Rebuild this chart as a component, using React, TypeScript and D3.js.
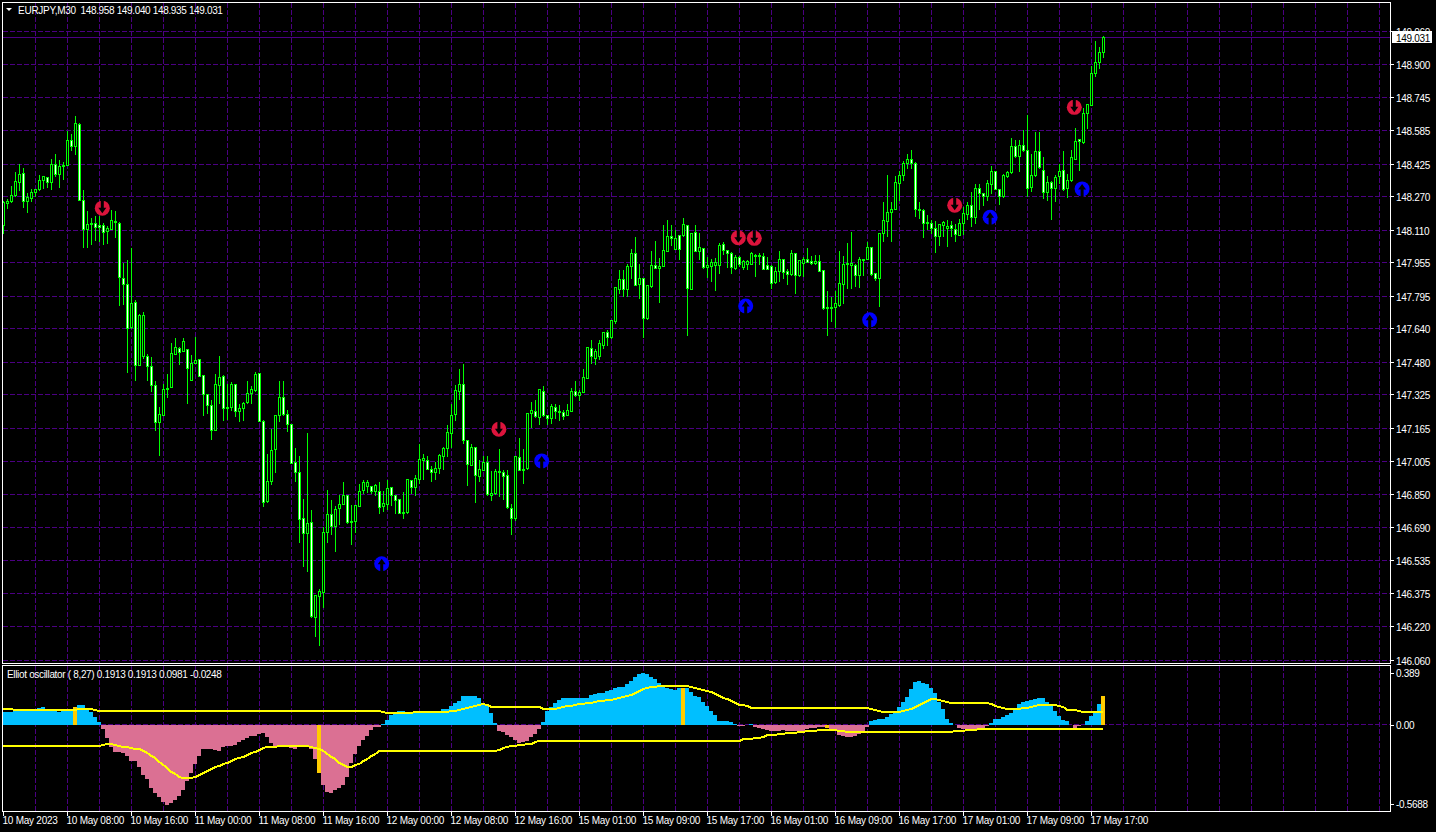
import React from "react";
import * as d3 from "d3";

const W = 1436, H = 832;
const highs = [148.255,148.263,148.322,148.393,148.430,148.411,148.290,148.312,148.311,148.379,
148.369,148.369,148.454,148.478,148.446,148.438,148.586,148.573,148.660,148.627,
148.303,148.207,148.172,148.179,148.179,148.147,148.131,148.210,148.203,148.152,
147.956,147.972,148.029,147.778,147.714,147.721,147.524,147.508,147.396,147.269,
147.380,147.425,147.574,147.597,147.555,147.600,147.543,147.520,147.606,147.500,
147.419,147.333,147.301,147.425,147.511,147.420,147.380,147.387,147.376,147.282,
147.295,147.392,147.368,147.439,147.428,147.209,147.043,147.166,147.233,147.396,
147.396,147.256,147.190,147.075,147.037,146.832,147.147,146.779,146.369,146.402,
146.697,146.875,146.827,146.795,146.852,146.914,146.852,146.800,146.800,146.903,
146.922,146.922,146.895,146.903,146.911,146.868,146.919,146.887,146.852,146.827,
146.864,146.922,146.922,146.943,147.091,147.046,147.038,146.986,147.007,147.046,
147.081,147.186,147.285,147.377,147.453,147.473,147.110,147.091,147.078,147.015,
147.034,147.037,146.964,146.975,147.070,146.967,146.967,146.805,147.035,147.123,
147.067,147.240,147.293,147.301,147.352,147.368,147.231,147.285,147.282,147.277,
147.253,147.282,147.361,147.396,147.349,147.449,147.555,147.587,147.545,147.587,
147.627,147.635,147.686,147.838,147.924,147.921,147.953,148.024,148.083,147.953,
147.886,147.848,148.016,148.064,147.981,148.136,148.164,148.136,148.112,148.088,
148.172,148.134,148.096,148.136,148.101,148.024,147.985,147.977,147.981,148.051,
148.056,148.020,148.009,147.993,147.988,147.969,147.969,148.009,148.001,148.004,
148.004,147.985,147.945,147.937,148.012,147.977,147.929,148.020,148.004,147.969,
147.985,148.029,147.988,147.993,147.993,147.921,147.823,147.794,147.823,148.016,
147.988,148.051,148.107,147.953,147.985,147.977,148.056,148.032,147.908,148.101,
148.247,148.379,148.247,148.370,148.398,148.443,148.478,148.497,148.438,148.249,
148.216,148.184,148.160,148.155,148.141,148.155,148.160,148.155,148.144,148.168,
148.224,148.247,148.295,148.332,148.332,148.290,148.351,148.418,148.395,148.311,
148.383,148.398,148.551,148.545,148.542,148.592,148.661,148.478,148.581,148.580,
148.462,148.370,148.348,148.375,148.427,148.491,148.383,148.497,148.600,148.542,
148.697,148.717,148.895,149.014,148.987,149.040];
const lows = [148.096,148.214,148.242,148.271,148.300,148.218,148.195,148.247,148.271,148.300,
148.312,148.315,148.303,148.366,148.314,148.355,148.419,148.493,148.474,148.252,
148.028,148.028,148.042,148.061,148.055,148.045,148.048,148.112,148.075,147.751,
147.754,147.431,147.643,147.392,147.466,147.498,147.396,147.341,147.155,147.035,
147.225,147.312,147.360,147.520,147.468,147.532,147.282,147.393,147.476,147.412,
147.225,147.234,147.110,147.155,147.282,147.202,147.206,147.250,147.222,147.198,
147.202,147.285,147.285,147.341,147.198,146.792,146.811,146.896,146.954,147.198,
147.225,147.150,146.997,146.911,146.620,146.506,146.482,146.264,146.172,146.129,
146.310,146.620,146.657,146.577,146.705,146.802,146.709,146.609,146.668,146.792,
146.856,146.859,146.856,146.843,146.760,146.768,146.776,146.798,146.757,146.757,
146.733,146.760,146.856,146.843,146.900,146.919,146.967,146.911,146.922,146.951,
146.967,147.030,147.075,147.205,147.301,147.094,146.895,146.986,146.811,146.911,
146.964,146.844,146.821,146.852,146.840,146.824,146.784,146.657,146.728,146.964,
146.903,146.967,147.170,147.218,147.182,147.224,147.182,147.190,147.212,147.205,
147.209,147.228,147.244,147.317,147.296,147.336,147.404,147.476,147.470,147.495,
147.547,147.563,147.594,147.664,147.810,147.794,147.794,147.881,147.845,147.786,
147.598,147.686,147.838,147.927,147.765,147.937,148.009,148.040,148.017,147.972,
148.083,147.608,147.829,148.009,147.969,147.929,147.885,147.865,147.823,147.905,
147.993,147.932,147.902,147.924,147.937,147.921,147.924,147.945,147.892,147.945,
147.921,147.921,147.834,147.858,147.865,147.880,147.850,147.896,147.807,147.892,
147.889,147.956,147.945,147.945,147.913,147.734,147.608,147.675,147.648,147.746,
147.762,147.834,147.834,147.842,147.838,147.897,147.969,147.896,147.873,147.749,
148.057,148.081,148.057,148.211,148.251,148.348,148.403,148.406,148.176,148.168,
148.076,148.112,148.096,148.004,148.036,148.081,148.033,148.081,148.057,148.084,
148.088,148.160,148.128,148.141,148.208,148.227,148.255,148.287,148.303,148.232,
148.268,148.360,148.383,148.459,148.391,148.486,148.271,148.295,148.367,148.406,
148.263,148.255,148.160,148.247,148.332,148.300,148.268,148.343,148.446,148.398,
148.523,148.594,148.705,148.844,148.882,148.935];
const opens = [148.133,148.238,148.247,148.276,148.338,148.382,148.250,148.263,148.290,148.304,
148.347,148.363,148.338,148.425,148.376,148.422,148.419,148.540,148.509,148.616,
148.252,148.113,148.144,148.144,148.134,148.134,148.104,148.113,148.153,148.144,
147.881,147.853,147.646,147.767,147.466,147.508,147.508,147.460,147.371,147.193,
147.229,147.357,147.360,147.520,147.547,147.532,147.543,147.396,147.476,147.495,
147.419,147.328,147.276,147.155,147.369,147.415,147.266,147.263,147.376,147.245,
147.260,147.288,147.333,147.344,147.428,147.199,146.814,146.911,147.066,147.225,
147.314,147.233,147.185,147.003,146.954,146.736,146.665,146.717,146.264,146.363,
146.382,146.668,146.754,146.697,146.781,146.802,146.846,146.720,146.720,146.792,
146.868,146.887,146.889,146.862,146.864,146.792,146.803,146.884,146.846,146.827,
146.765,146.763,146.918,146.883,146.922,147.013,147.011,146.970,146.956,146.975,
147.030,147.070,147.140,147.231,147.341,147.376,147.108,146.989,147.075,146.938,
146.964,147.003,146.844,146.854,146.961,146.956,146.941,146.784,146.733,147.027,
146.970,146.972,147.236,147.247,147.218,147.342,147.228,147.212,147.266,147.247,
147.242,147.229,147.245,147.342,147.321,147.337,147.404,147.547,147.500,147.508,
147.563,147.624,147.597,147.675,147.829,147.877,147.829,147.940,148.001,147.850,
147.881,147.689,147.840,147.942,147.927,147.937,148.009,148.082,148.017,148.085,
148.085,148.134,147.830,148.101,148.009,148.024,147.932,147.940,147.942,147.943,
148.044,148.016,148.001,147.927,147.981,147.932,147.945,147.947,147.988,147.988,
147.986,147.943,147.940,147.861,147.913,147.972,147.915,147.899,148.001,147.894,
147.953,147.972,147.962,147.950,147.962,147.920,147.743,147.737,147.740,147.751,
147.851,147.953,147.943,147.943,147.897,147.972,147.969,148.029,147.902,147.880,
148.093,148.152,148.195,148.212,148.333,148.371,148.427,148.449,148.430,148.211,
148.206,148.150,148.144,148.120,148.081,148.131,148.119,148.135,148.115,148.087,
148.141,148.185,148.230,148.171,148.311,148.287,148.271,148.327,148.391,148.306,
148.271,148.367,148.386,148.510,148.462,148.515,148.492,148.314,148.373,148.488,
148.395,148.289,148.340,148.309,148.367,148.397,148.308,148.348,148.449,148.542,
148.529,148.667,148.705,148.860,148.910,148.958];
const closes = [148.244,148.250,148.277,148.344,148.379,148.247,148.268,148.292,148.306,148.349,
148.368,148.338,148.425,148.376,148.417,148.414,148.540,148.509,148.621,148.252,
148.113,148.139,148.137,148.123,148.123,148.101,148.120,148.158,148.147,147.886,
147.853,147.643,147.762,147.466,147.705,147.705,147.460,147.369,147.193,147.233,
147.352,147.349,147.524,147.552,147.527,147.581,147.450,147.476,147.489,147.415,
147.326,147.276,147.155,147.376,147.409,147.260,147.260,147.376,147.245,147.261,
147.282,147.333,147.349,147.423,147.198,146.811,146.913,147.062,147.229,147.314,
147.231,147.185,146.997,146.954,146.732,146.665,146.712,146.267,146.369,146.387,
146.670,146.755,146.697,146.779,146.803,146.846,146.716,146.714,146.798,146.865,
146.908,146.906,146.864,146.894,146.787,146.808,146.879,146.846,146.821,146.760,
146.760,146.919,146.883,146.927,147.018,147.023,146.970,146.956,146.975,147.034,
147.070,147.147,147.228,147.347,147.376,147.107,146.992,147.075,146.941,146.967,
147.003,146.849,146.856,146.961,146.954,146.935,146.787,146.735,147.032,146.964,
146.967,147.237,147.252,147.220,147.349,147.226,147.212,147.272,147.245,147.240,
147.224,147.252,147.342,147.320,147.337,147.409,147.552,147.510,147.532,147.568,
147.625,147.598,147.678,147.838,147.877,147.826,147.940,148.001,147.846,147.881,
147.689,147.848,147.943,147.927,147.940,148.012,148.080,148.071,148.072,148.017,
148.139,147.834,148.096,148.009,148.029,147.932,147.943,147.959,147.958,148.037,
148.016,148.001,147.932,147.981,147.945,147.962,147.962,148.001,147.985,147.985,
147.924,147.924,147.856,147.916,147.972,147.908,147.899,148.001,147.894,147.964,
147.972,147.958,147.950,147.962,147.916,147.737,147.737,147.743,147.759,147.858,
147.948,147.950,147.953,147.894,147.969,147.966,148.029,147.899,147.880,148.096,
148.155,148.197,148.211,148.340,148.373,148.430,148.449,148.429,148.209,148.205,
148.143,148.144,148.119,148.081,148.136,148.150,148.130,148.119,148.090,148.144,
148.192,148.230,148.173,148.311,148.287,148.271,148.332,148.391,148.305,148.271,
148.370,148.387,148.511,148.461,148.515,148.491,148.308,148.373,148.488,148.411,
148.292,148.340,148.308,148.364,148.392,148.305,148.348,148.459,148.535,148.534,
148.669,148.712,148.860,148.912,148.960,149.031];

const oscillator = [.088,.088,.084,.092,.092,.097,.099,.099,.106,.114,
.117,.106,.099,.099,.088,.092,.097,.099,.117,.132,
.132,.106,.084,.055,.020,-.026,-.088,-.147,-.176,-.176,
-.187,-.202,-.238,-.238,-.279,-.330,-.359,-.418,-.451,-.477,
-.506,-.528,-.517,-.495,-.466,-.429,-.367,-.319,-.257,-.205,
-.161,-.158,-.161,-.165,-.169,-.143,-.139,-.139,-.132,-.114,
-.099,-.088,-.073,-.073,-.059,-.055,-.081,-.121,-.139,-.139,
-.139,-.147,-.154,-.158,-.143,-.143,-.143,-.161,-.224,-.315,
-.396,-.440,-.447,-.429,-.418,-.396,-.341,-.253,-.194,-.139,
-.099,-.073,-.033,-.015,-.011,.004,.033,.066,.088,.092,
.090,.084,.084,.088,.088,.088,.088,.088,.088,.088,
.103,.103,.125,.143,.161,.191,.191,.191,.191,.180,
.143,.136,.077,.013,-.040,-.044,-.066,-.081,-.099,-.117,
-.112,-.103,-.081,-.059,-.026,.022,.095,.121,.143,.165,
.176,.176,.180,.180,.180,.180,.180,.198,.202,.209,
.213,.224,.231,.242,.249,.253,.268,.290,.315,.337,
.343,.337,.319,.301,.275,.257,.244,.238,.231,.242,
.242,.242,.216,.191,.183,.154,.128,.092,.066,.026,
.026,.026,.018,.004,-.004,-.004,-.002,.007,-.011,-.022,
-.029,-.033,-.037,-.037,-.037,-.033,-.037,-.037,-.037,-.037,
-.037,-.029,-.022,-.018,-.015,-.015,-.020,-.026,-.037,-.064,
-.073,-.077,-.079,-.073,-.059,-.037,-.011,.029,.033,.037,
.037,.051,.073,.088,.121,.154,.187,.238,.286,.290,
.279,.271,.246,.209,.154,.106,.037,.011,.002,-.022,
-.029,-.037,-.029,-.029,-.024,-.018,-.007,.015,.037,.042,
.051,.066,.081,.110,.136,.154,.161,.165,.172,.178,
.178,.154,.136,.092,.059,.033,.026,.002,-.018,-.009,
-.002,.029,.059,.088,.139,.1913];

const upperBand = [.106,.106,.106,.101,.099,.099,.099,.099,.099,.099,
.099,.099,.099,.099,.101,.101,.101,.101,.101,.106,
.108,.108,.103,.099,.095,.092,.092,.092,.092,.092,
.092,.092,.092,.092,.092,.092,.092,.092,.092,.092,
.092,.092,.092,.092,.092,.092,.092,.092,.092,.092,
.092,.092,.092,.092,.092,.092,.092,.092,.092,.092,
.092,.092,.092,.092,.092,.092,.092,.092,.092,.092,
.092,.092,.092,.092,.092,.092,.092,.092,.092,.092,
.092,.092,.092,.092,.092,.092,.092,.092,.092,.092,
.092,.092,.092,.092,.092,.084,.079,.079,.079,.079,
.079,.079,.079,.086,.086,.086,.086,.086,.086,.086,
.086,.088,.090,.095,.099,.106,.110,.117,.123,.130,
.136,.132,.119,.119,.119,.119,.119,.119,.119,.119,
.119,.119,.119,.119,.119,.108,.106,.106,.108,.112,
.119,.123,.128,.132,.136,.141,.143,.147,.152,.156,
.161,.163,.167,.172,.176,.183,.191,.200,.213,.227,
.238,.242,.249,.253,.257,.260,.260,.260,.260,.260,
.260,.257,.251,.244,.238,.231,.224,.216,.205,.194,
.180,.169,.158,.147,.134,.134,.125,.112,.112,.112,
.112,.112,.112,.112,.112,.112,.112,.112,.112,.112,
.112,.112,.112,.112,.112,.112,.112,.112,.112,.112,
.112,.112,.112,.112,.112,.112,.112,.106,.099,.090,
.086,.086,.086,.086,.086,.090,.099,.108,.119,.132,
.143,.161,.169,.169,.167,.161,.154,.147,.147,.147,
.147,.147,.147,.147,.147,.147,.147,.139,.128,.121,
.110,.106,.106,.106,.106,.110,.114,.119,.125,.134,
.134,.134,.134,.130,.123,.117,.101,.099,.099,.095,
.088,.086,.086,.086,.088,.088];

const lowerBand = [-.139,-.139,-.139,-.139,-.139,-.139,-.139,-.139,-.139,-.139,
-.139,-.139,-.139,-.139,-.139,-.139,-.139,-.139,-.139,-.139,
-.139,-.139,-.139,-.139,-.139,-.134,-.128,-.128,-.132,-.139,
-.143,-.147,-.152,-.156,-.161,-.172,-.187,-.205,-.220,-.242,
-.264,-.286,-.308,-.326,-.341,-.350,-.350,-.350,-.341,-.330,
-.315,-.301,-.288,-.279,-.268,-.260,-.249,-.235,-.227,-.220,
-.209,-.198,-.187,-.178,-.165,-.152,-.145,-.143,-.143,-.141,
-.141,-.141,-.141,-.141,-.141,-.141,-.141,-.143,-.150,-.161,
-.174,-.189,-.209,-.227,-.249,-.264,-.275,-.275,-.266,-.255,
-.240,-.224,-.207,-.191,-.174,-.169,-.169,-.169,-.169,-.169,
-.169,-.169,-.169,-.169,-.169,-.169,-.169,-.169,-.169,-.169,
-.169,-.169,-.169,-.169,-.169,-.169,-.169,-.169,-.169,-.169,
-.169,-.169,-.169,-.169,-.165,-.154,-.147,-.141,-.136,-.132,
-.130,-.128,-.123,-.114,-.108,-.103,-.103,-.103,-.103,-.103,
-.103,-.103,-.103,-.103,-.103,-.103,-.103,-.103,-.103,-.103,
-.103,-.103,-.103,-.103,-.103,-.103,-.103,-.103,-.103,-.103,
-.103,-.103,-.103,-.103,-.103,-.103,-.103,-.103,-.103,-.103,
-.103,-.103,-.103,-.103,-.103,-.103,-.103,-.103,-.103,-.103,
-.103,-.103,-.103,-.103,-.103,-.095,-.095,-.090,-.088,-.084,
-.077,-.068,-.066,-.066,-.059,-.059,-.053,-.051,-.051,-.048,
-.046,-.042,-.040,-.037,-.033,-.033,-.031,-.031,-.033,-.037,
-.037,-.044,-.044,-.044,-.044,-.044,-.044,-.044,-.044,-.044,
-.044,-.044,-.044,-.044,-.044,-.044,-.044,-.044,-.044,-.044,
-.044,-.044,-.044,-.044,-.044,-.044,-.044,-.044,-.040,-.040,
-.040,-.035,-.031,-.031,-.026,-.026,-.024,-.024,-.024,-.024,
-.024,-.024,-.024,-.024,-.024,-.024,-.024,-.024,-.024,-.024,
-.024,-.024,-.024,-.024,-.024,-.024,-.024,-.024,-.024,-.024,
-.024,-.024,-.024,-.024,-.024,-.024];

const markerBars = [18, 79, 170, 206, 275];
const sellBars = [24.75, 123.9, 183.75, 187.75, 237.85, 267.75];
const sellPrices = [148.216, 147.161, 148.075, 148.072, 148.230, 148.697];
const buyBars = [94.6, 134.6, 185.6, 216.6, 246.7, 269.7];
const buyPrices = [146.519, 147.010, 147.749, 147.683, 148.173, 148.308];
const priceTicks = [149.06,148.9,148.745,148.585,148.425,148.27,148.11,147.955,147.795,147.64,147.48,147.325,147.165,147.005,146.85,146.69,146.535,146.375,146.22,146.06];
const timeLabels = ["10 May 2023","10 May 08:00","10 May 16:00","11 May 00:00","11 May 08:00","11 May 16:00","12 May 00:00","12 May 08:00","12 May 16:00","15 May 01:00","15 May 09:00","15 May 17:00","16 May 01:00","16 May 09:00","16 May 17:00","17 May 01:00","17 May 09:00","17 May 17:00"];
const BARS_PER_LABEL = 16;
const BID = 149.031;

const LIME = "#00FF00", GRID = "#4B0082", BLUE = "#00BFFF", PINK = "#DB7093", YEL = "#FFFF00", GOLD = "#FFCC00";
const FONT = "'Liberation Sans', Arial, sans-serif";
const textStyle = { fontFamily: FONT, fontSize: 10, letterSpacing: -0.25, fill: "#fff" } as const;

const x = d3.scaleLinear().domain([0, 275]).range([3.3, 1103.3]);
const y = d3.scaleLinear().domain([146.06, 149.06]).range([660, 31.3]);
const yo = d3.scaleLinear().domain([-0.5688, 0.389]).range([811.2, 666]);
const col = (i: number) => Math.floor(x(i));
const py = (v: number) => Math.floor(y(v)) + 0.5;
const DASH = "5 2";
const gridXs = d3.range(35.3, 1391, 32).map((v) => Math.floor(v) + 0.5);

function Signal({ cx, cy, up, color }: { cx: number; cy: number; up: boolean; color: string }) {
  const s = up ? -1 : 1;
  const arrow = `M-1.5 ${-8 * s}L1.5 ${-8 * s}L1.5 ${-0.5 * s}L4 ${-0.5 * s}L0 ${5 * s}L-4 ${-0.5 * s}L-1.5 ${-0.5 * s}Z`;
  return (
    <g transform={`translate(${cx},${cy})`}>
      <circle r={7.5} fill={color} />
      <path d={arrow} fill="#000" />
    </g>
  );
}

export default function App() {
  const lineGen = d3.line<number>().x((_, i) => x(i)).y((d) => Math.round(yo(d)));
  const zeroY = Math.floor(yo(0)) + 0.5;
  return (
    <svg width={W} height={H} style={{ position: "absolute", left: 0, top: 0, background: "#000", display: "block" }}>
      <defs>
        <clipPath id="pm"><rect x={3} y={3} width={1387} height={660} /></clipPath>
        <clipPath id="po"><rect x={3} y={666} width={1387} height={145} /></clipPath>
      </defs>
      {/* grid */}
      <g stroke={GRID} shapeRendering="crispEdges" fill="none">
        {priceTicks.map((p) => <line key={p} x1={3} x2={1390} y1={py(p)} y2={py(p)} strokeDasharray={DASH} />)}
        {gridXs.map((gx) => <line key={gx} x1={gx} x2={gx} y1={3} y2={663} strokeDasharray={DASH} />)}
        {gridXs.map((gx) => <line key={"o" + gx} x1={gx} x2={gx} y1={666} y2={811} strokeDasharray={DASH} />)}
        <line x1={3} x2={1390} y1={zeroY} y2={zeroY} strokeDasharray={DASH} />
        <line x1={3} x2={1390} y1={py(BID)} y2={py(BID)} />
      </g>
      {/* candles */}
      <g clipPath="url(#pm)" shapeRendering="crispEdges">
        {closes.map((c, i) => {
          const cx = col(i) + 0.5;
          const o = opens[i];
          const top = py(Math.max(o, c));
          const bot = py(Math.min(o, c));
          return (
            <g key={i}>
              <line x1={cx} x2={cx} y1={py(highs[i])} y2={py(lows[i])} stroke={LIME} />
              <rect x={cx - 1} y={top} width={2} height={Math.max(bot - top, 1)} stroke={LIME} fill={c >= o ? "#000" : "#fff"} />
            </g>
          );
        })}
      </g>
      {/* signals */}
      {sellBars.map((b, i) => <Signal key={"s" + i} cx={x(b)} cy={y(sellPrices[i])} up={false} color="#DC143C" />)}
      {buyBars.map((b, i) => <Signal key={"b" + i} cx={x(b)} cy={y(buyPrices[i])} up={true} color="#0000FF" />)}
      {/* oscillator */}
      <g clipPath="url(#po)" shapeRendering="crispEdges">
        {oscillator.map((v, i) => {
          const y0 = yo(0), y1 = yo(v);
          const isMarker = markerBars.includes(i);
          return (
            <rect key={i} x={col(i) - 2} y={Math.round(Math.min(y0, y1))} width={4} height={Math.round(Math.abs(y1 - y0))}
              fill={isMarker ? GOLD : v >= 0 ? BLUE : PINK} />
          );
        })}
        <path d={lineGen(upperBand) ?? ""} fill="none" stroke={YEL} strokeWidth={2} />
        <path d={lineGen(lowerBand) ?? ""} fill="none" stroke={YEL} strokeWidth={2} />
      </g>
      {/* frames */}
      <g fill="none" stroke="#fff" shapeRendering="crispEdges">
        <rect x={2.5} y={2.5} width={1388} height={661} />
        <rect x={2.5} y={665.5} width={1388} height={146} />
      </g>
      {/* price axis */}
      <g>
        {priceTicks.map((p) => (
          <g key={p}>
            <line x1={1391} x2={1394} y1={py(p)} y2={py(p)} stroke="#fff" shapeRendering="crispEdges" />
            <text x={1396} y={py(p) + 0.5} dy="0.36em" {...textStyle} letterSpacing={-0.3}>{p.toFixed(3)}</text>
          </g>
        ))}
        <rect x={1392} y={31} width={40} height={12} fill="#fff" />
        <text x={1396} y={py(BID) + 0.5} dy="0.36em" {...textStyle} letterSpacing={-0.3} fill="#000">{BID.toFixed(3)}</text>
      </g>
      {/* oscillator axis */}
      <g>
        {[["0.389", 673], ["0.00", 725], ["-0.5688", 804]].map(([t, ty]) => (
          <g key={t as string}>
            <line x1={1391} x2={1394} y1={(ty as number) + 0.5} y2={(ty as number) + 0.5} stroke="#fff" shapeRendering="crispEdges" />
            <text x={1396} y={ty as number} dy="0.36em" {...textStyle} letterSpacing={-0.3}>{t}</text>
          </g>
        ))}
      </g>
      {/* time axis */}
      <g>
        {timeLabels.map((t, i) => {
          const tx = col(i * BARS_PER_LABEL) + 0.5;
          return (
            <g key={t}>
              <line x1={tx} x2={tx} y1={812} y2={816} stroke="#fff" shapeRendering="crispEdges" />
              <text x={tx - 1} y={824} {...textStyle}>{t}</text>
            </g>
          );
        })}
      </g>
      {/* titles */}
      <path d="M6 8H12L9 11Z" fill="#fff" />
      <text x={18} y={14} {...textStyle}>EURJPY,M30</text>
      <text x={80.5} y={14} {...textStyle} letterSpacing={-0.35}>{`${opens[275].toFixed(3)} ${highs[275].toFixed(3)} ${lows[275].toFixed(3)} ${closes[275].toFixed(3)}`}</text>
      <text x={7} y={678} {...textStyle} letterSpacing={-0.33}>{`Elliot oscillator ( 8,27) 0.1913 0.1913 0.0981 -0.0248`}</text>
    </svg>
  );
}
